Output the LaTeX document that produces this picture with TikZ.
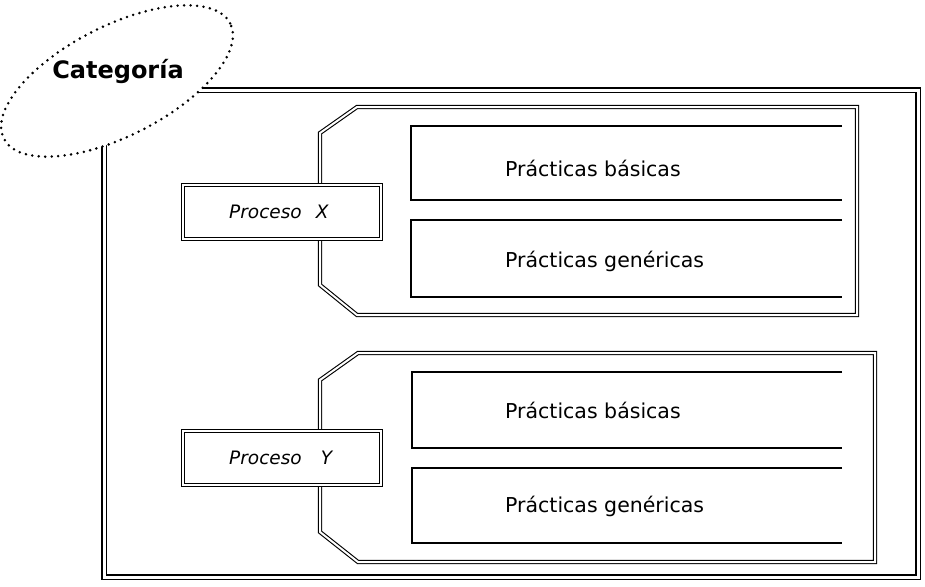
\documentclass[tikz,border=0pt]{standalone}
\usepackage{fontspec}
\setmainfont{DejaVu Sans}
\begin{document}
\begin{tikzpicture}[x=1pt,y=-1pt,
  frame/.style={draw=black,line width=1.6pt,double=white,double distance=3pt},
  grp/.style={draw=black,line width=1.1pt,double=white,double distance=2pt,line join=miter},
  procbox/.style={draw=black,line width=1.2pt,double=white,double distance=2.2pt,fill=white,
     minimum width=198pt,minimum height=54pt,inner sep=0pt},
  proctext/.style={anchor=west,inner sep=0pt,font=\fontsize{18.5}{20}\selectfont\itshape},
  prac/.style={draw=black,line width=1.5pt},
  practext/.style={anchor=west,inner sep=0pt,font=\fontsize{20.5}{22}\selectfont},
  cat/.style={draw=black,line width=2.8pt,line cap=round,dash pattern=on 0pt off 6.5pt,fill=white}
]
\useasboundingbox (0,0) rectangle (925,586);
% outer frame
\draw[frame] (104,90) rectangle (918,577);
% category ellipse
\draw[cat,rotate around={27:(117,81)}] (117,81) ellipse [x radius=127pt,y radius=55pt];
\node[font=\fontsize{24}{26}\selectfont\bfseries,inner sep=0pt] (cat) at (118,71) {Categoría};
% group X
\draw[grp] (357,107) -- (857,107) -- (857,315) -- (357,315) -- (320,285) -- (320,133) -- cycle;
\draw[prac] (842,126) -- (411,126) -- (411,200) -- (842,200);
\draw[prac] (842,220) -- (411,220) -- (411,297) -- (842,297);
\node[practext] (bx) at (505,168) {Prácticas básicas};
\node[practext] (gx) at (505,261) {Prácticas genéricas};
\node[procbox] (px) at (282,212) {};
\node[proctext] (pxt) at (229,212) {Proceso\hspace{14pt}X};
% group Y
\draw[grp] (358,353) -- (875,353) -- (875,562) -- (358,562) -- (320,532) -- (320,380) -- cycle;
\draw[prac] (842,372) -- (412,372) -- (412,448) -- (842,448);
\draw[prac] (842,468) -- (412,468) -- (412,543) -- (842,543);
\node[practext] (by) at (505,410) {Prácticas básicas};
\node[practext] (gy) at (505,506) {Prácticas genéricas};
\node[procbox] (py) at (282,458) {};
\node[proctext] (pyt) at (229,458) {Proceso\hspace{19pt}Y};
\end{tikzpicture}
\end{document}
